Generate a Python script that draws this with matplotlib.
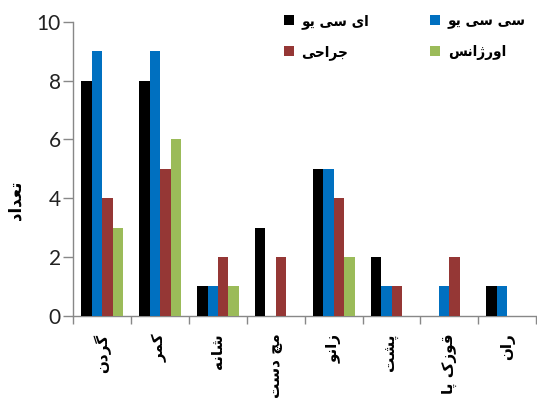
import matplotlib
matplotlib.use("Agg")
import matplotlib.pyplot as plt
import numpy as np

# ---- data ----
categories = ["گردن", "کمر", "شانه", "مچ دست", "زانو", "پشت", "قوزک پا", "ران"]
series_names = ["ای سی یو", "سی سی یو", "جراحی", "اورژانس"]
icu = [8, 8, 1, 3, 5, 2, 0, 1]
ccu = [9, 9, 1, 0, 5, 1, 1, 1]
surgery = [4, 5, 2, 2, 4, 1, 2, 0]
emergency = [3, 6, 1, 0, 2, 0, 0, 0]
y_label = "تعداد"

colors = ["#000000", "#0070C0", "#953735", "#9BBB59"]

# ---- minimal Arabic/Persian shaping (presentation forms + visual order) ----
FORMS = {
    # char: (isolated, final, initial, medial); None for initial/medial => right-joining only
    "ا": ("\uFE8D", "\uFE8E", None, None),
    "د": ("\uFEA9", "\uFEAA", None, None),
    "ر": ("\uFEAD", "\uFEAE", None, None),
    "ز": ("\uFEAF", "\uFEB0", None, None),
    "ژ": ("\uFB8A", "\uFB8B", None, None),
    "و": ("\uFEED", "\uFEEE", None, None),
    "ب": ("\uFE8F", "\uFE90", "\uFE91", "\uFE92"),
    "پ": ("\uFB56", "\uFB57", "\uFB58", "\uFB59"),
    "ت": ("\uFE95", "\uFE96", "\uFE97", "\uFE98"),
    "ج": ("\uFE9D", "\uFE9E", "\uFE9F", "\uFEA0"),
    "ح": ("\uFEA1", "\uFEA2", "\uFEA3", "\uFEA4"),
    "چ": ("\uFB7A", "\uFB7B", "\uFB7C", "\uFB7D"),
    "س": ("\uFEB1", "\uFEB2", "\uFEB3", "\uFEB4"),
    "ش": ("\uFEB5", "\uFEB6", "\uFEB7", "\uFEB8"),
    "ع": ("\uFEC9", "\uFECA", "\uFECB", "\uFECC"),
    "ق": ("\uFED5", "\uFED6", "\uFED7", "\uFED8"),
    "ک": ("\uFB8E", "\uFB8F", "\uFB90", "\uFB91"),
    "گ": ("\uFB92", "\uFB93", "\uFB94", "\uFB95"),
    "ل": ("\uFEDD", "\uFEDE", "\uFEDF", "\uFEE0"),
    "م": ("\uFEE1", "\uFEE2", "\uFEE3", "\uFEE4"),
    "ن": ("\uFEE5", "\uFEE6", "\uFEE7", "\uFEE8"),
    "ه": ("\uFEE9", "\uFEEA", "\uFEEB", "\uFEEC"),
    "ی": ("\uFBFC", "\uFBFD", "\uFBFE", "\uFBFF"),
}


def shape(text):
    chars = list(text)
    out = []
    for i, c in enumerate(chars):
        if c not in FORMS:
            out.append(c)
            continue
        prev = chars[i - 1] if i > 0 else None
        nxt = chars[i + 1] if i + 1 < len(chars) else None
        join_prev = prev in FORMS and FORMS[prev][2] is not None
        can_next = FORMS[c][2] is not None and nxt in FORMS
        iso, fin, ini, med = FORMS[c]
        if join_prev and can_next:
            out.append(med)
        elif join_prev:
            out.append(fin)
        elif can_next:
            out.append(ini)
        else:
            out.append(iso)
    return "".join(reversed(out))


plt.rcParams["font.family"] = ["DejaVu Sans"]

fig = plt.figure(figsize=(5.37, 4.01), dpi=100)
ax = fig.add_axes([0.1365, 0.213, 0.862, 0.732])

x = np.arange(len(categories))
width = 0.18
all_series = [icu, ccu, surgery, emergency]
handles = []
for k, (vals, col, name) in enumerate(zip(all_series, colors, series_names)):
    h = ax.bar(x + (k - 1.5) * width, vals, width, color=col, label=shape(name),
               edgecolor="none", zorder=3)
    handles.append(h)

ax.set_xlim(-0.5, len(categories) - 0.5)
ax.set_ylim(0, 10)
ax.set_yticks(np.arange(0, 11, 2))
ax.tick_params(axis="y", labelsize=15, length=7, width=1, color="#888888",
               direction="out", pad=2, labelcolor="#222222")
for lbl in ax.get_yticklabels():
    lbl.set_family("Lato")

ax.set_xticks(x)
ax.set_xticklabels([shape(c) for c in categories], rotation=90, fontsize=11,
                   fontweight="bold", va="top", ha="center")
ax.set_xticks(np.arange(-0.5, len(categories), 1), minor=True)
ax.tick_params(axis="x", which="major", length=0, pad=13)
ax.tick_params(axis="x", which="minor", length=6, width=1, color="#888888",
               direction="out")

for side in ("top", "right"):
    ax.spines[side].set_visible(False)
for side in ("left", "bottom"):
    ax.spines[side].set_color("#888888")
    ax.spines[side].set_linewidth(1)

fig.text(0.028, 0.50, shape(y_label), rotation=90, fontsize=12,
         fontweight="bold", ha="center", va="center")

# legend filled row by row: (ICU, CCU) on top, (surgery, emergency) below
order = [0, 2, 1, 3]
leg = ax.legend([handles[i] for i in order],
                [shape(series_names[i]) for i in order],
                ncol=2, loc="upper left", bbox_to_anchor=(0.455, 1.03),
                frameon=False, handlelength=0.65, handleheight=0.65,
                handletextpad=0.5, columnspacing=4.0, labelspacing=1.0,
                borderaxespad=0, borderpad=0,
                prop={"weight": "bold", "size": 11, "stretch": "condensed"})

fig.savefig("out.png", dpi=100)
